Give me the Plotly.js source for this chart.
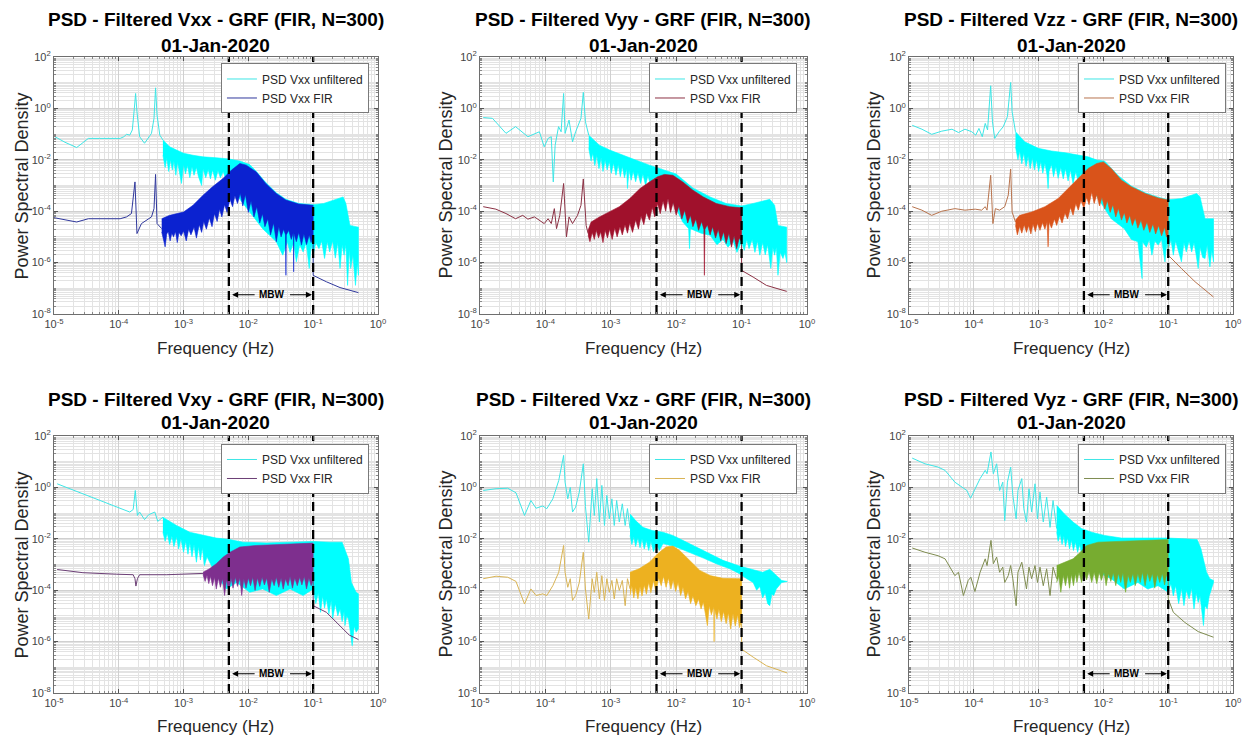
<!DOCTYPE html>
<html>
<head>
<meta charset="utf-8">
<script src="https://cdn.plot.ly/plotly-3.0.1.min.js"></script>
<style>
  html, body { margin: 0; padding: 0; background: #fff; }
  #chart { width: 1249px; height: 737px; }
</style>
</head>
<body>
<div id="chart"></div>
<script>
// ---------- Vxx ----------
const vxxCyanF = [1e-5,1.48e-5,2.24e-5,3.4e-5,5.1e-5,1.05e-4,1.2e-4,1.32e-4,1.48e-4,1.62e-4,1.74e-4,1.82e-4,1.91e-4,2.1e-4,2.5e-4,2.95e-4,3.2e-4,3.5e-4,3.7e-4,3.9e-4,4.3e-4,4.8e-4];
const vxxCyanP = [8.3e-2,4.8e-2,3.0e-2,6.8e-2,6.8e-2,6.8e-2,7.9e-2,9.8e-2,9.1e-2,0.145,1.0,3.8,0.74,7.9e-2,4.4e-2,7.9e-2,0.107,0.41,6.3,0.55,9.1e-2,5.9e-2];
const vxxCyanHiF = [4.8e-4,6.1e-4,7.8e-4,1.0e-3,1.4e-3,2.0e-3,3.2e-3,5.1e-3,7.4e-3,1.05e-2,1.32e-2,1.86e-2,2.7e-2,3.8e-2,6.0e-2,0.1,0.145,0.2,0.29,0.32,0.37,0.5];
const vxxCyanHiP = [5.9e-2,3.2e-2,2.4e-2,1.8e-2,1.5e-2,1.3e-2,1.2e-2,1.07e-2,8.9e-3,6.5e-3,3.6e-3,1.3e-3,5.2e-4,2.9e-4,2.0e-4,1.8e-4,2.0e-4,2.7e-4,3.6e-4,2.0e-4,2.8e-5,2.4e-5];
const vxxCyanLoF = [4.8e-4,5.2e-4,5.5e-4,5.9e-4,6.3e-4,6.7e-4,7.1e-4,7.6e-4,8.1e-4,8.7e-4,9.3e-4,1.0e-3,1.07e-3,1.15e-3,1.25e-3,1.35e-3,1.45e-3,1.58e-3,1.7e-3,1.9e-3,2.0e-3,2.2e-3,2.4e-3,2.6e-3,2.8e-3,3.1e-3,3.4e-3,3.7e-3,4.1e-3,4.6e-3,5.2e-3,6.6e-3,1.05e-2,1.66e-2,2.7e-2,3.4e-2,4.0e-2,4.4e-2,5.0e-2,5.5e-2,6.2e-2,7.0e-2,7.8e-2,8.7e-2,9.3e-2,0.1,0.11,0.123,0.135,0.15,0.165,0.18,0.2,0.22,0.24,0.26,0.28,0.3,0.32,0.34,0.36,0.38,0.41,0.45,0.48,0.5];
const vxxCyanLoP = [1.5e-2,5e-3,1.2e-2,3.5e-3,1.0e-2,4.0e-3,9.0e-3,2.5e-3,8.0e-3,3.0e-3,1.2e-3,6.5e-3,2.8e-3,6.0e-3,2.0e-3,5.5e-3,2.5e-3,5.0e-3,2.2e-3,1.0e-3,4.5e-3,2.0e-3,4.2e-3,1.8e-3,4.0e-3,1.6e-3,3.8e-3,2.0e-3,3.5e-3,1.4e-3,3.0e-3,4.2e-4,9.3e-5,2.1e-5,6.5e-6,1.95e-6,6.5e-6,2.5e-6,6.0e-6,1.07e-6,5.0e-6,2.6e-6,6.0e-6,5.9e-7,5.0e-6,1.95e-6,6.0e-6,3.5e-6,7.0e-6,1.45e-6,6.5e-6,2.6e-6,7.0e-6,1.5e-6,6.0e-6,5.9e-7,5.0e-6,1.95e-6,5.0e-6,1.3e-7,3.0e-6,5.9e-7,2.0e-6,1.3e-7,1.0e-6,3.2e-7];
const vxxFirF = [1e-5,2.24e-5,3.4e-5,1.05e-4,1.32e-4,1.57e-4,1.78e-4,1.91e-4,2.24e-4,2.7e-4,3.2e-4,3.5e-4,3.7e-4,3.9e-4,4.6e-4];
const vxxFirP = [5.6e-5,3.8e-5,5.1e-5,5.1e-5,6.0e-5,8.1e-5,1.38e-3,1.35e-5,3.3e-5,4.5e-5,6.0e-5,1.26e-4,2.7e-3,3.3e-5,2.1e-5];
const vxxFirHiF = [4.6e-4,6.1e-4,1.0e-3,1.4e-3,2.0e-3,2.8e-3,4.1e-3,5.5e-3,7.4e-3,9.3e-3,1.32e-2,1.86e-2,2.7e-2,3.8e-2,6.0e-2,0.1];
const vxxFirHiP = [5.1e-5,6.9e-5,9.3e-5,1.7e-4,4.2e-4,8.9e-4,1.9e-3,4.0e-3,7.2e-3,6.2e-3,3.4e-3,1.2e-3,4.9e-4,2.7e-4,1.9e-4,1.7e-4];
const vxxFirLoF = [4.6e-4,4.9e-4,5.2e-4,5.5e-4,5.8e-4,6.2e-4,6.6e-4,7.0e-4,7.5e-4,8.0e-4,8.5e-4,9.2e-4,1.0e-3,1.1e-3,1.2e-3,1.3e-3,1.45e-3,1.58e-3,1.75e-3,1.9e-3,2.05e-3,2.25e-3,2.5e-3,2.75e-3,3.0e-3,3.3e-3,3.6e-3,3.9e-3,4.3e-3,4.7e-3,5.2e-3,5.7e-3,6.2e-3,6.8e-3,7.5e-3,8.2e-3,9.0e-3,1.0e-2,1.1e-2,1.22e-2,1.35e-2,1.5e-2,1.65e-2,1.8e-2,2.0e-2,2.2e-2,2.45e-2,2.7e-2,2.95e-2,3.2e-2,3.5e-2,3.75e-2,3.8e-2,3.85e-2,4.2e-2,4.6e-2,4.95e-2,5.0e-2,5.05e-2,5.5e-2,6.0e-2,6.6e-2,7.2e-2,7.9e-2,8.7e-2,9.3e-2,0.1];
const vxxFirLoP = [1.55e-5,8e-6,4.1e-6,1.3e-5,1.6e-5,7e-6,1.4e-5,1.0e-5,1.6e-5,6e-6,1.5e-5,1.1e-5,1.7e-5,7e-6,2.0e-5,1.2e-5,2.4e-5,9e-6,3.0e-5,1.5e-5,4.0e-5,2.0e-5,5.5e-5,2.5e-5,8.0e-5,4.0e-5,1.2e-4,6.0e-5,1.8e-4,9.0e-5,3.0e-4,1.5e-4,4.0e-4,2.0e-4,5.0e-4,1.6e-4,4.5e-4,9.0e-5,2.5e-4,6.0e-5,1.5e-4,3.5e-5,8.0e-5,2.5e-5,5.0e-5,1.2e-5,3.5e-5,6.5e-6,2.5e-5,1.0e-5,2.0e-5,1.2e-5,3.2e-7,1.2e-5,1.8e-5,8.0e-6,1.5e-5,4.4e-7,1.4e-5,6.5e-6,1.5e-5,4.8e-6,1.3e-5,5.0e-6,1.2e-5,6.0e-6,1.15e-5];
const vxxTailF = [0.1,0.1,0.16,0.26,0.5];
const vxxTailP = [1.15e-5,3.2e-7,1.8e-7,1.07e-7,6.8e-8];

// ---------- Vyy ----------
const vyyCyanF = [1.12e-5,1.55e-5,2.5e-5,3.5e-5,5.4e-5,8.1e-5,9.6e-5,1.1e-4,1.23e-4,1.32e-4,1.41e-4,1.59e-4,1.74e-4,1.9e-4,2.0e-4,2.3e-4,2.6e-4,2.9e-4,3.5e-4,3.8e-4,4.1e-4,4.6e-4];
const vyyCyanP = [0.44,0.41,0.107,0.195,7.9e-2,0.123,3.2e-2,6.8e-2,7.9e-2,1.38e-3,3.7e-2,0.195,0.123,3.8,0.107,0.35,5.0e-2,0.123,0.41,4.2,0.30,9.1e-2];
const vyyCyanHiF = [4.6e-4,6.7e-4,9.6e-4,1.5e-3,2.4e-3,3.9e-3,6.3e-3,1.0e-2,1.8e-2,3.3e-2,5.8e-2,0.1,0.15,0.27,0.32,0.36,0.49];
const vyyCyanHiP = [9.1e-2,3.7e-2,2.4e-2,1.5e-2,9.8e-3,6.2e-3,4.0e-3,2.8e-3,8.0e-4,3.6e-4,2.0e-4,1.6e-4,2.0e-4,2.9e-4,1.7e-4,2.8e-5,2.4e-5];
const vyyCyanLoF = [4.6e-4,5.0e-4,5.3e-4,5.7e-4,6.1e-4,6.6e-4,7.1e-4,7.6e-4,8.2e-4,8.8e-4,9.5e-4,1.02e-3,1.1e-3,1.2e-3,1.3e-3,1.4e-3,1.5e-3,1.62e-3,1.75e-3,1.8e-3,1.9e-3,2.05e-3,2.2e-3,2.4e-3,2.6e-3,2.85e-3,3.1e-3,3.4e-3,3.7e-3,4.1e-3,4.5e-3,5.0e-3,5.5e-3,7.9e-3,1.26e-2,1.55e-2,1.6e-2,1.65e-2,2.4e-2,3.3e-2,4.2e-2,5.2e-2,6.2e-2,7.4e-2,8.5e-2,0.1,0.11,0.12,0.13,0.145,0.16,0.175,0.19,0.21,0.23,0.25,0.28,0.3,0.32,0.34,0.36,0.39,0.43,0.46,0.49];
const vyyCyanLoP = [2.8e-2,9e-3,1.8e-2,6e-3,1.5e-2,4.5e-3,1.2e-2,3.5e-3,1.0e-2,4.0e-3,8.5e-3,3.0e-3,7.5e-3,2.5e-3,6.5e-3,2.2e-3,5.5e-3,2.0e-3,4.5e-3,7.6e-4,4.0e-3,1.6e-3,3.6e-3,1.4e-3,3.2e-3,1.2e-3,2.8e-3,1.0e-3,2.4e-3,9.0e-4,2.0e-3,7.0e-4,1.5e-3,4.2e-4,3.8e-5,2.1e-5,3.5e-6,2.1e-5,1.4e-5,1.15e-5,5e-6,8e-6,4e-6,7e-6,2.5e-6,6.5e-6,3.0e-6,8.0e-6,3.5e-6,8.0e-6,2.5e-6,7.0e-6,1.95e-6,6.0e-6,2.0e-6,5.0e-6,5.9e-7,4.0e-6,1.95e-6,4.0e-6,3.2e-7,2.5e-6,1.45e-6,2.5e-6,1.0e-6];
const vyyFirF = [1.12e-5,1.75e-5,2.5e-5,3.5e-5,4.5e-5,5.4e-5,6.8e-5,8.1e-5,9.6e-5,1.1e-4,1.23e-4,1.37e-4,1.48e-4,1.66e-4,1.9e-4,2.1e-4,2.3e-4,2.6e-4,3.1e-4,3.5e-4,3.8e-4,4.2e-4,4.5e-4];
const vyyFirP = [1.5e-4,1.2e-4,8.1e-5,5.1e-5,6.9e-5,4.9e-5,6.0e-5,4.5e-5,3.3e-5,5.1e-5,3.3e-5,1.26e-4,2.1e-5,6.9e-5,1.2e-3,1.0e-5,6.0e-5,3.3e-5,6.9e-5,1.7e-4,1.8e-3,2.8e-5,1.35e-5];
const vyyFirHiF = [4.5e-4,5.0e-4,6.7e-4,9.6e-4,1.35e-3,1.95e-3,2.8e-3,3.9e-3,5.2e-3,6.6e-3,8.9e-3,1.26e-2,1.8e-2,2.6e-2,4.1e-2,6.6e-2,0.1];
const vyyFirHiP = [1.8e-5,3.8e-5,6.0e-5,9.3e-5,1.5e-4,3.1e-4,7.6e-4,1.38e-3,2.2e-3,2.7e-3,2.5e-3,1.38e-3,6.6e-4,3.6e-4,2.0e-4,1.5e-4,1.35e-4];
const vyyFirLoF = [4.5e-4,4.8e-4,5.2e-4,5.6e-4,6.0e-4,6.5e-4,7.0e-4,7.6e-4,8.2e-4,8.9e-4,9.6e-4,1.05e-3,1.15e-3,1.25e-3,1.38e-3,1.5e-3,1.65e-3,1.8e-3,1.95e-3,2.15e-3,2.4e-3,2.65e-3,2.9e-3,3.2e-3,3.5e-3,3.9e-3,4.3e-3,4.7e-3,5.2e-3,5.7e-3,6.3e-3,6.9e-3,7.5e-3,8.2e-3,9.0e-3,1.0e-2,1.1e-2,1.22e-2,1.35e-2,1.5e-2,1.65e-2,1.8e-2,2.0e-2,2.2e-2,2.45e-2,2.65e-2,2.7e-2,2.75e-2,3.0e-2,3.3e-2,3.6e-2,4.0e-2,4.4e-2,4.8e-2,5.3e-2,5.8e-2,6.4e-2,7.0e-2,7.7e-2,8.4e-2,9.2e-2,0.1];
const vyyFirLoP = [1.15e-5,6.5e-6,1.5e-5,8e-6,1.8e-5,9e-6,1.6e-5,6e-6,1.8e-5,9e-6,2.0e-5,8e-6,2.2e-5,1.0e-5,2.5e-5,1.2e-5,3.0e-5,1.4e-5,3.5e-5,1.5e-5,4.5e-5,2.0e-5,6.5e-5,3.0e-5,9.0e-5,4.5e-5,1.4e-4,6.0e-5,2.0e-4,8.0e-5,2.5e-4,1.0e-4,3.1e-4,9.0e-5,2.2e-4,7.0e-5,1.6e-4,5.0e-5,1.1e-4,3.5e-5,7.0e-5,2.5e-5,5.0e-5,1.8e-5,4.0e-5,2.0e-5,3.2e-7,2.0e-5,3.0e-5,1.2e-5,2.5e-5,9.0e-6,2.0e-5,7.0e-6,1.6e-5,5.5e-6,1.4e-5,4.0e-6,1.1e-5,3.5e-6,9.0e-6,6.5e-6];
const vyyTailF = [0.1,0.1,0.15,0.24,0.49];
const vyyTailP = [6.5e-6,5.0e-7,2.75e-7,1.3e-7,7.6e-8];

// ---------- Vzz ----------
const vzzCyanF = [1.12e-5,1.58e-5,2.24e-5,3.2e-5,4.6e-5,5.8e-5,7.3e-5,9.3e-5,1.07e-4,1.2e-4,1.35e-4,1.5e-4,1.63e-4,1.82e-4,1.94e-4,2.1e-4,2.45e-4,2.85e-4,3.3e-4,3.7e-4,3.9e-4,4.4e-4];
const vzzCyanP = [0.22,0.155,9.8e-2,0.13,0.155,0.115,0.155,0.123,9.1e-2,0.166,7.9e-2,0.26,0.145,7.6,0.30,6.8e-2,0.123,0.195,0.48,10.2,0.74,0.123];
const vzzCyanHiF = [4.4e-4,6.1e-4,9.9e-4,1.58e-3,2.6e-3,4.1e-3,5.8e-3,7.9e-3,1.05e-2,1.7e-2,2.7e-2,4.4e-2,7.0e-2,0.1,0.16,0.275,0.31,0.37,0.5];
const vzzCyanHiP = [0.123,5.0e-2,2.8e-2,2.2e-2,1.87e-2,1.5e-2,1.3e-2,9.8e-3,8.8e-3,2.4e-3,9.5e-4,5.2e-4,3.5e-4,2.8e-4,3.1e-4,4.9e-4,3.6e-4,5.1e-5,5.1e-5];
const vzzCyanLoF = [4.4e-4,4.8e-4,5.1e-4,5.5e-4,5.9e-4,6.4e-4,6.9e-4,7.4e-4,8.0e-4,8.6e-4,9.3e-4,1.0e-3,1.08e-3,1.16e-3,1.25e-3,1.35e-3,1.4e-3,1.45e-3,1.58e-3,1.7e-3,1.85e-3,2.0e-3,2.2e-3,2.4e-3,2.6e-3,2.85e-3,3.1e-3,3.4e-3,3.75e-3,4.1e-3,4.5e-3,5.0e-3,5.5e-3,8.3e-3,1.32e-2,2.1e-2,2.7e-2,3.4e-2,3.95e-2,4.0e-2,4.6e-2,5.1e-2,5.6e-2,6.2e-2,7.0e-2,7.9e-2,8.9e-2,0.095,0.1,0.11,0.12,0.13,0.145,0.16,0.175,0.19,0.21,0.23,0.25,0.27,0.29,0.31,0.34,0.37,0.4,0.44,0.47,0.5];
const vzzCyanLoP = [3.2e-2,1.0e-2,2.2e-2,7e-3,1.8e-2,5.5e-3,1.4e-2,4.5e-3,1.2e-2,4.0e-3,1.0e-2,3.5e-3,8.5e-3,3.0e-3,7.5e-3,2.5e-3,7.6e-4,3.5e-3,6.5e-3,2.2e-3,5.5e-3,1.9e-3,5.0e-3,1.8e-3,4.5e-3,1.5e-3,4.0e-3,1.2e-3,3.5e-3,1.3e-3,3.0e-3,6.0e-4,2.0e-3,3.1e-4,5.1e-5,2.1e-5,8e-6,6.5e-6,2.4e-7,6.5e-6,4e-6,8e-6,1.95e-6,7e-6,4.8e-6,8e-6,1.07e-6,6e-6,3e-6,8e-6,1.95e-6,7e-6,2.5e-6,1.07e-6,6e-6,2.6e-6,7e-6,2.6e-6,6e-6,2e-6,5.9e-7,4e-6,1.6e-6,1.45e-6,5e-6,6.8e-7,3e-6,1.07e-6];
const vzzFirF = [1.12e-5,1.58e-5,2.24e-5,3.2e-5,5.1e-5,7.3e-5,1.05e-4,1.32e-4,1.5e-4,1.6e-4,1.82e-4,1.97e-4,2.15e-4,2.5e-4,3.0e-4,3.4e-4,3.7e-4,3.9e-4,4.4e-4];
const vzzFirP = [1.5e-4,1.1e-4,6.9e-5,1.0e-4,1.26e-4,1.1e-4,1.2e-4,1.1e-4,1.5e-4,1.1e-4,2.5e-3,3.3e-5,1.26e-4,1.1e-4,1.5e-4,4.2e-4,4.4e-3,9.3e-5,3.8e-5];
const vzzFirHiF = [4.4e-4,5.1e-4,7.8e-4,1.25e-3,2.0e-3,2.9e-3,4.1e-3,5.8e-3,7.9e-3,1.0e-2,1.32e-2,1.9e-2,2.7e-2,4.4e-2,7.0e-2,0.1];
const vzzFirHiP = [4.5e-5,6.9e-5,9.3e-5,1.5e-4,3.1e-4,7.6e-4,1.9e-3,4.6e-3,7.2e-3,8.3e-3,4.6e-3,1.6e-3,8.9e-4,4.9e-4,3.3e-4,2.7e-4];
const vzzFirLoF = [4.4e-4,4.7e-4,5.1e-4,5.5e-4,6.0e-4,6.5e-4,7.0e-4,7.6e-4,8.2e-4,8.9e-4,9.6e-4,1.05e-3,1.15e-3,1.25e-3,1.35e-3,1.4e-3,1.45e-3,1.58e-3,1.75e-3,1.9e-3,2.1e-3,2.3e-3,2.55e-3,2.8e-3,3.1e-3,3.4e-3,3.75e-3,4.1e-3,4.5e-3,5.0e-3,5.5e-3,6.0e-3,6.6e-3,7.2e-3,7.9e-3,8.7e-3,9.5e-3,1.05e-2,1.15e-2,1.27e-2,1.4e-2,1.55e-2,1.7e-2,1.9e-2,2.1e-2,2.3e-2,2.55e-2,2.8e-2,3.1e-2,3.4e-2,3.8e-2,4.2e-2,4.7e-2,5.2e-2,5.8e-2,6.4e-2,7.1e-2,7.9e-2,8.8e-2,9.4e-2,0.1];
const vzzFirLoP = [2.8e-5,1.2e-5,2.6e-5,1.4e-5,3.0e-5,1.5e-5,2.8e-5,1.3e-5,3.2e-5,1.6e-5,3.4e-5,1.8e-5,3.6e-5,2.0e-5,3.8e-5,4.1e-6,3.8e-5,2.2e-5,5.0e-5,2.8e-5,6.5e-5,3.5e-5,8.5e-5,5.0e-5,1.4e-4,7.0e-5,2.0e-4,1.1e-4,2.6e-4,1.3e-4,3.5e-4,1.8e-4,5.6e-4,2.0e-4,4.5e-4,1.6e-4,3.5e-4,1.2e-4,2.6e-4,9.0e-5,1.8e-4,6.0e-5,1.3e-4,4.5e-5,9.0e-5,3.5e-5,7.0e-5,2.8e-5,5.5e-5,2.2e-5,4.5e-5,1.8e-5,3.8e-5,1.5e-5,3.2e-5,1.3e-5,2.8e-5,1.1e-5,2.4e-5,1.0e-5,1.15e-5];
const vzzTailF = [0.1,0.1,0.16,0.26,0.5];
const vzzTailP = [1.15e-5,1.95e-6,5.9e-7,1.8e-7,4.6e-8];

// ---------- Vxy ----------
const vxyCyanF = [1.12e-5,1.77e-5,2.8e-5,5.1e-5,9.3e-5,1.48e-4,1.67e-4,1.8e-4,1.94e-4,2.1e-4,2.5e-4,2.9e-4,3.6e-4,4.0e-4,4.8e-4];
const vxyCyanP = [1.38,0.89,0.56,0.31,0.17,0.11,0.138,0.76,8.1e-2,0.11,5.6e-2,8.7e-2,0.11,4.8e-2,6.9e-2];
const vxyCyanHiF = [4.8e-4,7.8e-4,1.25e-3,2.0e-3,3.2e-3,5.2e-3,8.3e-3,1.9e-2,4.4e-2,0.1,0.18,0.28,0.35,0.39,0.46,0.5];
const vxyCyanHiP = [6.9e-2,3.3e-2,1.8e-2,1.35e-2,1.07e-2,9.3e-3,7.4e-3,6.9e-3,7.4e-3,7.9e-3,7.4e-3,7.4e-3,1.66e-3,2.0e-4,8.3e-5,7.2e-5];
const vxyCyanLoF = [4.8e-4,5.2e-4,5.6e-4,6.1e-4,6.6e-4,7.1e-4,7.8e-4,8.4e-4,9.1e-4,1.0e-3,1.08e-3,1.17e-3,1.25e-3,1.35e-3,1.45e-3,1.58e-3,1.7e-3,1.82e-3,1.95e-3,2.1e-3,2.3e-3,3.2e-3,4.6e-3,6.6e-3,1.05e-2,1.66e-2,2.7e-2,4.4e-2,7.0e-2,0.1,0.11,0.12,0.13,0.14,0.15,0.16,0.175,0.19,0.2,0.22,0.24,0.26,0.28,0.3,0.31,0.33,0.35,0.37,0.4,0.43,0.46,0.5];
const vxyCyanLoP = [1.8e-2,8e-3,1.6e-2,6e-3,1.3e-2,5e-3,1.2e-2,4e-3,1.0e-2,3.0e-3,8.0e-3,2.5e-3,7.0e-3,2.0e-3,6.0e-3,1.23e-3,5.0e-3,1.5e-3,4.5e-3,9.1e-4,2.0e-3,3.7e-4,1.12e-4,2.0e-4,8.3e-5,1.12e-4,6.2e-5,1.12e-4,6.2e-5,1.12e-4,3.0e-5,8.0e-5,1.38e-5,6.0e-5,2.0e-5,4.6e-5,1.2e-5,4.0e-5,7.6e-6,3.0e-5,1.0e-5,1.86e-5,6.0e-6,1.5e-5,4.2e-6,1.0e-5,7.6e-6,3.0e-6,6.9e-7,4.0e-6,2.3e-6,3.1e-6];
const vxyFirF = [1.12e-5,2.8e-5,9.3e-5,1.67e-4,1.78e-4,1.84e-4,1.94e-4,2.1e-4,5.5e-4,1.4e-3,2.0e-3];
const vxyFirP = [6.4e-4,4.8e-4,4.2e-4,4.0e-4,2.8e-4,1.45e-4,2.8e-4,4.0e-4,4.0e-4,4.4e-4,4.5e-4];
const vxyFirHiF = [2.0e-3,2.5e-3,3.2e-3,4.1e-3,5.2e-3,7.4e-3,1.32e-2,3.4e-2,0.1];
const vxyFirHiP = [5.0e-4,6.8e-4,1.07e-3,1.95e-3,3.0e-3,4.8e-3,5.5e-3,5.9e-3,6.8e-3];
const vxyFirLoF = [2.0e-3,2.15e-3,2.3e-3,2.45e-3,2.6e-3,2.8e-3,3.0e-3,3.2e-3,3.45e-3,3.7e-3,4.0e-3,4.3e-3,4.6e-3,5.0e-3,5.4e-3,5.8e-3,6.3e-3,6.8e-3,7.4e-3,7.9e-3,8.5e-3,9.2e-3,1.0e-2,1.08e-2,1.17e-2,1.27e-2,1.38e-2,1.5e-2,1.63e-2,1.77e-2,1.92e-2,2.1e-2,2.3e-2,2.5e-2,2.7e-2,2.95e-2,3.2e-2,3.45e-2,3.75e-2,4.1e-2,4.4e-2,4.8e-2,5.2e-2,5.7e-2,6.2e-2,6.7e-2,7.3e-2,7.9e-2,8.6e-2,9.3e-2,0.1];
const vxyFirLoP = [4.0e-4,2.2e-4,3.8e-4,1.8e-4,3.5e-4,1.5e-4,3.2e-4,1.1e-4,3.0e-4,1.3e-4,2.8e-4,6.2e-5,2.6e-4,8.3e-5,3.0e-4,1.2e-4,3.2e-4,1.4e-4,3.0e-4,6.2e-5,2.8e-4,1.2e-4,3.0e-4,1.5e-4,3.2e-4,9.8e-5,3.0e-4,1.4e-4,3.2e-4,1.6e-4,3.0e-4,8.3e-5,2.8e-4,1.5e-4,3.2e-4,1.3e-4,3.0e-4,1.1e-4,2.8e-4,1.5e-4,3.4e-4,1.2e-4,3.0e-4,1.5e-4,3.2e-4,1.6e-4,3.4e-4,1.12e-4,3.0e-4,1.5e-4,2.4e-4];
const vxyTailF = [0.1,0.1,0.16,0.26,0.36,0.5];
const vxyTailP = [2.4e-4,2.5e-5,1.38e-5,4.2e-6,1.8e-6,1.2e-6];

// ---------- Vxz ----------
const vxzLowF = [1.12e-5,1.76e-5,2.65e-5,3.55e-5,4.8e-5,6.0e-5,7.2e-5,9.1e-5,1.05e-4,1.3e-4,1.6e-4,1.9e-4,2.0e-4,2.2e-4,2.4e-4,2.6e-4,2.9e-4,3.3e-4,3.8e-4,4.1e-4,4.6e-4,5.2e-4,5.6e-4,6.1e-4,6.7e-4,7.3e-4,8.0e-4,8.7e-4,9.5e-4,1.04e-3,1.13e-3,1.23e-3,1.35e-3,1.5e-3,1.66e-3,1.8e-3,1.97e-3];
const vxzCyanP = [0.76,0.89,0.93,0.62,8.1e-2,0.31,0.155,0.19,0.148,0.36,1.86,17.6,1.6,0.36,1.0,0.11,0.17,0.66,8.3,0.18,7.4e-3,0.89,8.1e-2,2.2,4.5e-2,1.2,3.3e-2,0.49,6.0e-2,0.36,3.3e-2,0.31,4.5e-2,0.23,3.3e-2,0.15,2.5e-2];
const vxzCyanHiF = [1.97e-3,2.4e-3,3.1e-3,4.3e-3,6.3e-3,8.9e-3,1.26e-2,2.0e-2,3.3e-2,5.2e-2,9.3e-2,0.15,0.21,0.27,0.34,0.41,0.5];
const vxzCyanHiP = [9.3e-2,5.1e-2,2.8e-2,2.1e-2,1.8e-2,1.35e-2,8.7e-3,4.8e-3,2.6e-3,1.45e-3,8.7e-4,6.5e-4,5.0e-4,6.5e-4,3.7e-4,2.4e-4,2.2e-4];
const vxzCyanLoF = [1.97e-3,2.1e-3,2.25e-3,2.4e-3,2.6e-3,2.8e-3,3.0e-3,3.25e-3,3.5e-3,3.8e-3,4.1e-3,4.5e-3,5.0e-3,5.5e-3,6.3e-3,1.0e-2,1.6e-2,2.6e-2,4.1e-2,6.6e-2,9.3e-2,0.12,0.15,0.17,0.19,0.21,0.23,0.25,0.27,0.29,0.31,0.34,0.41,0.5];
const vxzCyanLoP = [1.35e-2,6e-3,1.2e-2,5e-3,1.1e-2,4.5e-3,1.0e-2,4.0e-3,8.5e-3,3.5e-3,8.0e-3,3.2e-3,6.5e-3,3.5e-3,6.5e-3,4.8e-3,3.0e-3,1.78e-3,1.07e-3,6.8e-4,4.4e-4,2.8e-4,2.0e-4,1.0e-4,1.4e-4,5.0e-5,8.0e-5,3.0e-5,2.5e-5,7.0e-5,6.2e-5,1.12e-4,2.0e-4,2.2e-4];
const vxzFirP = [2.8e-4,3.5e-4,3.2e-4,2.2e-4,2.9e-5,1.12e-4,6.2e-5,7.2e-5,6.2e-5,1.5e-4,5.0e-4,5.5e-3,5.0e-4,1.3e-4,2.8e-4,4.0e-5,6.2e-5,2.0e-4,3.0e-3,1.12e-4,7.6e-6,2.8e-4,8.3e-5,5.0e-4,4.6e-5,3.7e-4,4.0e-5,2.8e-4,8.3e-5,2.4e-4,4.6e-5,2.8e-4,9.8e-5,2.4e-4,2.5e-5,2.8e-4,1.12e-4];
const vxzFirHiF = [1.97e-3,2.7e-3,3.9e-3,5.2e-3,7.0e-3,8.9e-3,1.13e-2,1.6e-2,2.3e-2,3.3e-2,5.2e-2,0.1];
const vxzFirHiP = [5.0e-4,6.8e-4,1.23e-3,2.6e-3,4.8e-3,5.2e-3,3.5e-3,1.45e-3,5.9e-4,3.7e-4,2.9e-4,2.8e-4];
const vxzFirLoF = [1.97e-3,2.1e-3,2.25e-3,2.4e-3,2.6e-3,2.8e-3,3.0e-3,3.25e-3,3.5e-3,3.8e-3,4.1e-3,4.5e-3,4.9e-3,5.4e-3,5.9e-3,6.4e-3,7.0e-3,7.6e-3,8.3e-3,9.0e-3,9.8e-3,1.07e-2,1.17e-2,1.27e-2,1.39e-2,1.52e-2,1.66e-2,1.8e-2,2.0e-2,2.2e-2,2.4e-2,2.6e-2,2.8e-2,3.0e-2,3.2e-2,3.45e-2,3.75e-2,3.8e-2,3.85e-2,4.2e-2,4.5e-2,4.9e-2,5.3e-2,5.8e-2,6.3e-2,6.8e-2,7.4e-2,8.0e-2,8.7e-2,9.3e-2,0.1];
const vxzFirLoP = [6.2e-5,1.5e-4,5.0e-5,1.3e-4,4.6e-5,1.4e-4,6.0e-5,1.6e-4,7.0e-5,2.0e-4,8.0e-5,2.4e-4,8.3e-5,3.0e-4,1.5e-4,3.5e-4,1.3e-4,3.0e-4,1.1e-4,2.5e-4,9.0e-5,2.0e-4,6.2e-5,1.3e-4,4.6e-5,9.0e-5,3.0e-5,6.0e-5,2.5e-5,4.5e-5,1.86e-5,3.5e-5,1.4e-5,4.2e-6,2.5e-5,1.1e-5,2.2e-5,1.0e-6,2.0e-5,7.6e-6,1.8e-5,6.0e-6,1.5e-5,5.0e-6,1.3e-5,3.1e-6,1.2e-5,4.0e-6,1.1e-5,3.5e-6,6.5e-6];
const vxzTailF = [0.1,0.1,0.15,0.24,0.5];
const vxzTailP = [6.5e-6,5.1e-7,2.5e-7,1.15e-7,6.0e-8];

// ---------- Vyz ----------
const vyzCyanF = [1.12e-5,1.76e-5,2.8e-5,3.6e-5,5.1e-5,6.9e-5,7.8e-5,8.9e-5,1.04e-4,1.25e-4,1.5e-4,1.6e-4,1.84e-4,2.0e-4,2.25e-4,2.5e-4,2.8e-4,3.0e-4,3.3e-4,3.7e-4,4.0e-4,4.5e-4,4.8e-4,5.5e-4,5.9e-4,6.5e-4,7.1e-4,7.8e-4,8.8e-4,9.6e-4,1.05e-3,1.18e-3,1.33e-3,1.5e-3,1.67e-3,1.9e-3];
const vyzCyanP = [13.8,8.3,6.2,4.6,1.6,0.89,0.76,0.38,0.89,2.2,4.6,3.4,24,3.4,8.3,0.76,1.6,5.1e-2,1.6,6.2,0.49,6.0e-2,0.76,2.2,0.15,4.5e-2,0.89,0.11,1.38,6.0e-2,0.66,4.5e-2,0.42,2.8e-2,0.31,2.5e-2];
const vyzCyanHiF = [1.9e-3,2.5e-3,3.4e-3,4.6e-3,6.6e-3,1.05e-2,1.9e-2,4.4e-2,0.1,0.18,0.28,0.32,0.39,0.44,0.5];
const vyzCyanHiP = [0.2,9.3e-2,4.5e-2,2.5e-2,1.8e-2,1.35e-2,1.07e-2,1.07e-2,1.07e-2,1.0e-2,9.3e-3,4.1e-3,5.0e-4,2.8e-4,2.4e-4];
const vyzCyanLoF = [1.9e-3,2.0e-3,2.15e-3,2.3e-3,2.45e-3,2.6e-3,2.8e-3,3.0e-3,3.2e-3,3.45e-3,3.7e-3,4.0e-3,4.3e-3,4.7e-3,5.2e-3,8.3e-3,1.32e-2,2.1e-2,3.4e-2,4.8e-2,7.0e-2,0.1,0.11,0.12,0.13,0.145,0.16,0.175,0.19,0.21,0.23,0.25,0.27,0.29,0.31,0.33,0.35,0.37,0.4,0.43,0.45,0.5];
const vyzCyanLoP = [1.8e-2,8e-3,1.5e-2,6e-3,1.3e-2,5e-3,1.1e-2,4e-3,9e-3,3.5e-3,7.5e-3,3.0e-3,6.0e-3,2.0e-3,1.66e-3,5.0e-4,2.8e-4,1.12e-4,2.0e-4,1.12e-4,1.5e-4,8.3e-5,1.8e-4,6.0e-5,1.5e-4,3.0e-5,1.2e-4,2.5e-5,1.0e-4,4.6e-5,1.2e-4,1.86e-5,8.0e-5,3.3e-5,6.0e-5,1.5e-5,4.2e-6,2.5e-5,1.86e-5,6.0e-5,8.3e-5,2.0e-4];
const vyzFirF = [1.12e-5,1.76e-5,2.8e-5,3.6e-5,5.1e-5,5.8e-5,6.9e-5,8.2e-5,9.0e-5,1.04e-4,1.25e-4,1.5e-4,1.6e-4,1.84e-4,2.0e-4,2.25e-4,2.5e-4,2.8e-4,3.0e-4,3.4e-4,3.7e-4,4.0e-4,4.5e-4,4.8e-4,5.5e-4,5.9e-4,6.5e-4,7.1e-4,7.8e-4,8.8e-4,9.6e-4,1.05e-3,1.18e-3,1.33e-3,1.5e-3,1.67e-3,1.9e-3];
const vyzFirP = [4.4e-3,3.0e-3,2.2e-3,1.66e-3,3.7e-4,5.0e-4,6.2e-5,2.4e-4,3.2e-4,8.9e-5,5.0e-4,1.66e-3,9.1e-4,8.7e-3,1.07e-3,1.95e-3,5.0e-4,7.9e-4,2.0e-4,3.7e-4,9.1e-4,2.8e-4,2.5e-5,5.0e-4,1.23e-3,3.7e-4,1.12e-4,7.9e-4,2.8e-4,9.1e-4,2.0e-4,7.9e-4,1.5e-4,6.8e-4,6.2e-5,7.9e-4,2.8e-4];
const vyzFirHiF = [1.9e-3,2.5e-3,3.4e-3,4.4e-3,5.5e-3,8.3e-3,1.9e-2,4.4e-2,0.1];
const vyzFirHiP = [9.1e-4,1.23e-3,1.66e-3,3.0e-3,5.5e-3,7.4e-3,7.9e-3,8.7e-3,9.3e-3];
const vyzFirLoF = [1.9e-3,2.05e-3,2.2e-3,2.4e-3,2.6e-3,2.8e-3,3.0e-3,3.2e-3,3.45e-3,3.7e-3,3.9e-3,4.2e-3,4.6e-3,5.0e-3,5.5e-3,6.0e-3,6.6e-3,7.2e-3,7.9e-3,8.6e-3,9.3e-3,1.02e-2,1.1e-2,1.2e-2,1.3e-2,1.42e-2,1.55e-2,1.7e-2,1.85e-2,2.0e-2,2.2e-2,2.4e-2,2.6e-2,2.85e-2,3.1e-2,3.4e-2,3.7e-2,4.0e-2,4.4e-2,4.8e-2,5.2e-2,5.7e-2,6.2e-2,6.8e-2,7.4e-2,8.1e-2,8.8e-2,9.4e-2,0.1];
const vyzFirLoP = [2.0e-4,3.5e-4,8.3e-5,3.8e-4,1.5e-4,4.0e-4,1.2e-4,4.2e-4,1.5e-4,4.5e-4,2.0e-4,5.0e-4,2.0e-4,5.5e-4,2.5e-4,5.5e-4,2.0e-4,5.0e-4,1.8e-4,5.0e-4,2.4e-4,5.0e-4,1.5e-4,4.5e-4,2.2e-4,4.8e-4,1.5e-4,4.5e-4,2.0e-4,4.8e-4,8.3e-5,4.0e-4,2.0e-4,4.5e-4,1.5e-4,4.5e-4,2.0e-4,5.0e-4,1.5e-4,4.8e-4,2.2e-4,4.5e-4,1.2e-4,4.2e-4,2.0e-4,4.5e-4,1.6e-4,4.0e-4,2.8e-4];
const vyzTailF = [0.1,0.1,0.12,0.18,0.29,0.5];
const vyzTailP = [2.8e-4,4.6e-5,1.38e-5,5.6e-6,2.45e-6,1.48e-6];

// band edges of the MBW window (Hz) and plot limits
const mbwEdges = [0.005, 0.1];
const psdLimits = [1e-8, 1e2];
const freqTicks = [1e-5, 1e-4, 1e-3, 1e-2, 1e-1, 1];
const freqTickText = ['10<sup>-5</sup>','10<sup>-4</sup>','10<sup>-3</sup>','10<sup>-2</sup>','10<sup>-1</sup>','10<sup>0</sup>'];
const psdTicks = [1e-8, 1e-6, 1e-4, 1e-2, 1, 1e2];
const psdTickText = ['10<sup>-8</sup>','10<sup>-6</sup>','10<sup>-4</sup>','10<sup>-2</sup>','10<sup>0</sup>','10<sup>2</sup>'];
const legendNames = ['PSD Vxx unfiltered', 'PSD Vxx FIR'];
const dateLabel = '01-Jan-2020';

const panels = [
  {comp:'Vxx', band:'#0b22d0', line:'#30389c',
   cF:vxxCyanF, cP:vxxCyanP, cHF:vxxCyanHiF, cHP:vxxCyanHiP, cLF:vxxCyanLoF, cLP:vxxCyanLoP,
   fF:vxxFirF, fP:vxxFirP, fHF:vxxFirHiF, fHP:vxxFirHiP, fLF:vxxFirLoF, fLP:vxxFirLoP, tF:vxxTailF, tP:vxxTailP},
  {comp:'Vyy', band:'#a0112c', line:'#8c3245',
   cF:vyyCyanF, cP:vyyCyanP, cHF:vyyCyanHiF, cHP:vyyCyanHiP, cLF:vyyCyanLoF, cLP:vyyCyanLoP,
   fF:vyyFirF, fP:vyyFirP, fHF:vyyFirHiF, fHP:vyyFirHiP, fLF:vyyFirLoF, fLP:vyyFirLoP, tF:vyyTailF, tP:vyyTailP},
  {comp:'Vzz', band:'#d9531a', line:'#b8744e',
   cF:vzzCyanF, cP:vzzCyanP, cHF:vzzCyanHiF, cHP:vzzCyanHiP, cLF:vzzCyanLoF, cLP:vzzCyanLoP,
   fF:vzzFirF, fP:vzzFirP, fHF:vzzFirHiF, fHP:vzzFirHiP, fLF:vzzFirLoF, fLP:vzzFirLoP, tF:vzzTailF, tP:vzzTailP},
  {comp:'Vxy', band:'#7e2f8e', line:'#6c3f76',
   cF:vxyCyanF, cP:vxyCyanP, cHF:vxyCyanHiF, cHP:vxyCyanHiP, cLF:vxyCyanLoF, cLP:vxyCyanLoP,
   fF:vxyFirF, fP:vxyFirP, fHF:vxyFirHiF, fHP:vxyFirHiP, fLF:vxyFirLoF, fLP:vxyFirLoP, tF:vxyTailF, tP:vxyTailP},
  {comp:'Vxz', band:'#edb120', line:'#d9b455',
   cF:vxzLowF, cP:vxzCyanP, cHF:vxzCyanHiF, cHP:vxzCyanHiP, cLF:vxzCyanLoF, cLP:vxzCyanLoP,
   fF:vxzLowF, fP:vxzFirP, fHF:vxzFirHiF, fHP:vxzFirHiP, fLF:vxzFirLoF, fLP:vxzFirLoP, tF:vxzTailF, tP:vxzTailP},
  {comp:'Vyz', band:'#77ac30', line:'#7f8c50',
   cF:vyzCyanF, cP:vyzCyanP, cHF:vyzCyanHiF, cHP:vyzCyanHiP, cLF:vyzCyanLoF, cLP:vyzCyanLoP,
   fF:vyzFirF, fP:vyzFirP, fHF:vyzFirHiF, fHP:vyzFirHiP, fLF:vyzFirLoF, fLP:vyzFirLoP, tF:vyzTailF, tP:vyzTailP}
];

const FONT = 'Liberation Sans, Arial, Helvetica, sans-serif';
const CYAN = '#00ffff';
const CYAN_LINE = '#3ee6e6';

// page geometry (paper fractions)
const colDom = [[0.0432, 0.3026], [0.3843, 0.6461], [0.7278, 0.9872]];
const rowDom = [[0.5739, 0.9227], [0.0597, 0.4084]];
const titleY = [[0.9729, 0.9389], [0.4573, 0.4261]];
const xTitleY = [0.5278, 0.0136];
const yTitleX = [0.0176, 0.3563, 0.699];
const legRight = [0.2954, 0.6381, 0.9816];
const legTop = [0.91384, 0.39756];

// closed outline of a dense spectral band: upper edge forward, lower edge back
function bandOutline(hiF, hiP, loF, loP) {
  return { x: hiF.concat(loF.slice().reverse()), y: hiP.concat(loP.slice().reverse()) };
}

const traces = [];
const layout = {
  width: 1249, height: 737,
  margin: {l: 0, r: 0, t: 0, b: 0},
  paper_bgcolor: '#ffffff', plot_bgcolor: '#ffffff',
  font: {family: FONT, color: '#262626'},
  showlegend: true,
  annotations: []
};

panels.forEach((p, i) => {
  const row = Math.floor(i / 3), col = i % 3;
  const sfx = i === 0 ? '' : String(i + 1);
  const xa = 'x' + sfx, ya = 'y' + sfx, leg = 'legend' + sfx;

  const cyanBand = bandOutline(p.cHF, p.cHP, p.cLF, p.cLP);
  const firBand = bandOutline(p.fHF, p.fHP, p.fLF, p.fLP);

  traces.push({x: p.cF, y: p.cP, xaxis: xa, yaxis: ya, mode: 'lines', name: legendNames[0],
    legend: leg, line: {color: CYAN_LINE, width: 1}, hoverinfo: 'skip'});
  traces.push({x: cyanBand.x, y: cyanBand.y, xaxis: xa, yaxis: ya, mode: 'lines', fill: 'toself',
    fillcolor: CYAN, line: {color: CYAN, width: 0.6}, showlegend: false, legend: leg, hoverinfo: 'skip'});
  traces.push({x: p.fF, y: p.fP, xaxis: xa, yaxis: ya, mode: 'lines', name: legendNames[1],
    legend: leg, line: {color: p.line, width: 1}, hoverinfo: 'skip'});
  traces.push({x: firBand.x, y: firBand.y, xaxis: xa, yaxis: ya, mode: 'lines', fill: 'toself',
    fillcolor: p.band, line: {color: p.band, width: 0.6}, showlegend: false, legend: leg, hoverinfo: 'skip'});
  traces.push({x: p.tF, y: p.tP, xaxis: xa, yaxis: ya, mode: 'lines',
    line: {color: p.line, width: 1}, showlegend: false, legend: leg, hoverinfo: 'skip'});
  mbwEdges.forEach(e => {
    traces.push({x: [e, e], y: psdLimits, xaxis: xa, yaxis: ya, mode: 'lines',
      line: {color: '#000000', width: 2.3, dash: '9px,5px'}, showlegend: false, legend: leg, hoverinfo: 'skip'});
  });

  const grid = {
    type: 'log', ticks: 'inside', ticklen: 4, tickcolor: '#555', mirror: 'ticks',
    showline: true, linecolor: '#6e6e6e', linewidth: 1,
    showgrid: true, gridcolor: '#d0d0d0', gridwidth: 1, zeroline: false,
    tickfont: {size: 11, color: '#444'}, tickmode: 'array', fixedrange: true,
    minor: {dtick: 'D1', showgrid: true, gridcolor: '#e3e3e3', ticks: 'inside', ticklen: 2, tickcolor: '#888'}
  };
  layout['xaxis' + sfx] = Object.assign({}, grid, {
    domain: colDom[col], anchor: ya, range: [-5, 0],
    tickvals: freqTicks, ticktext: freqTickText
  });
  layout['yaxis' + sfx] = Object.assign({}, grid, {
    domain: rowDom[row], anchor: xa, range: [-8, 2],
    tickvals: psdTicks, ticktext: psdTickText
  });
  layout[leg] = {
    x: legRight[col], xanchor: 'right', y: legTop[row], yanchor: 'top',
    xref: 'paper', yref: 'paper', bgcolor: '#ffffff', bordercolor: '#7a7a7a', borderwidth: 1,
    font: {size: 12, color: '#262626', family: FONT}, itemwidth: 30, tracegroupgap: 0
  };

  const cx = (colDom[col][0] + colDom[col][1]) / 2;
  const cy = (rowDom[row][0] + rowDom[row][1]) / 2;
  const A = layout.annotations;
  A.push({xref: 'paper', yref: 'paper', x: cx, y: titleY[row][0], showarrow: false,
    text: '<b>PSD - Filtered ' + p.comp + ' - GRF (FIR, N=300)</b>', font: {size: 19, color: '#000'},
    xanchor: 'center', yanchor: 'middle'});
  A.push({xref: 'paper', yref: 'paper', x: cx, y: titleY[row][1], showarrow: false,
    text: '<b>' + dateLabel + '</b>', font: {size: 19, color: '#000'}, xanchor: 'center', yanchor: 'middle'});
  A.push({xref: 'paper', yref: 'paper', x: cx, y: xTitleY[row], showarrow: false,
    text: 'Frequency (Hz)', font: {size: 17, color: '#262626'}, xanchor: 'center', yanchor: 'middle'});
  A.push({xref: 'paper', yref: 'paper', x: yTitleX[col], y: cy, showarrow: false, textangle: -90,
    text: 'Power Spectral Density', font: {size: 18, color: '#262626'}, xanchor: 'center', yanchor: 'middle'});
  // MBW marker between the two dashed edges
  A.push({xref: xa, yref: ya + ' domain', x: -1.63, y: 0.075, showarrow: false,
    text: '<b>MBW</b>', font: {size: 10, color: '#000'}, xanchor: 'center', yanchor: 'middle'});
  A.push({xref: xa, yref: ya + ' domain', x: -2.25, y: 0.075, axref: xa, ayref: 'pixel', ax: -1.88, ay: 0,
    text: '', showarrow: true, arrowhead: 2, arrowsize: 1, arrowwidth: 1.2, arrowcolor: '#000', standoff: 0});
  A.push({xref: xa, yref: ya + ' domain', x: -1.02, y: 0.075, axref: xa, ayref: 'pixel', ax: -1.38, ay: 0,
    text: '', showarrow: true, arrowhead: 2, arrowsize: 1, arrowwidth: 1.2, arrowcolor: '#000', standoff: 0});
});

Plotly.newPlot('chart', traces, layout, {staticPlot: true, displayModeBar: false});
</script>
</body>
</html>
